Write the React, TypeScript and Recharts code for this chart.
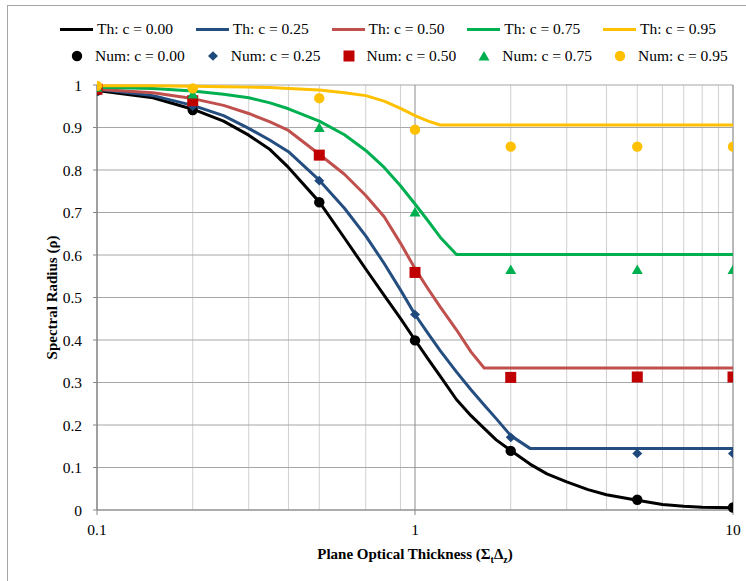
import React from 'react';
import { ComposedChart, Line, Scatter, XAxis, YAxis, CartesianGrid } from 'recharts';

const cLabels = ['0.00', '0.25', '0.50', '0.75', '0.95'];
const lineColors = ['#000000', '#254E80', '#C0504D', '#00B050', '#FFC000'];
const markerColors = ['#000000', '#1F497D', '#C00000', '#00B050', '#FFC000'];
const markerShapes = ['circle', 'diamond', 'square', 'triangle', 'circle'];

const xTicks = [0.1, 1, 10];
const xMinorTicks = [0.2, 0.3, 0.4, 0.5, 0.6, 0.7, 0.8, 0.9, 2, 3, 4, 5, 6, 7, 8, 9];
const yTicks = [0, 0.1, 0.2, 0.3, 0.4, 0.5, 0.6, 0.7, 0.8, 0.9, 1];

const thX = [0.1, 0.15, 0.2, 0.25, 0.3, 0.35, 0.4, 0.5, 0.6, 0.7, 0.8, 0.9, 1, 1.1, 1.2, 1.35, 1.5, 1.65, 1.8, 2, 2.3, 2.6, 3, 3.5, 4, 5, 6, 7, 8, 10];
const thY0 = [0.987, 0.97, 0.943, 0.915, 0.882, 0.848, 0.806, 0.725, 0.64, 0.567, 0.505, 0.451, 0.4, 0.355, 0.315, 0.26, 0.222, 0.192, 0.165, 0.14, 0.108, 0.085, 0.066, 0.048, 0.036, 0.023, 0.013, 0.009, 0.0065, 0.005];
const thY25 = [0.99, 0.975, 0.952, 0.928, 0.898, 0.87, 0.843, 0.776, 0.71, 0.645, 0.58, 0.518, 0.46, 0.415, 0.375, 0.325, 0.283, 0.247, 0.215, 0.175, 0.145, 0.145, 0.145, 0.145, 0.145, 0.145, 0.145, 0.145, 0.145, 0.145];
const thY50 = [0.99, 0.982, 0.968, 0.952, 0.933, 0.913, 0.893, 0.837, 0.79, 0.74, 0.69, 0.628, 0.568, 0.52, 0.478, 0.424, 0.372, 0.334, 0.334, 0.334, 0.334, 0.334, 0.334, 0.334, 0.334, 0.334, 0.334, 0.334, 0.334, 0.334];
const thY75 = [0.995, 0.992, 0.986, 0.978, 0.97, 0.958, 0.944, 0.915, 0.883, 0.846, 0.806, 0.763, 0.72, 0.68, 0.642, 0.601, 0.601, 0.601, 0.601, 0.601, 0.601, 0.601, 0.601, 0.601, 0.601, 0.601, 0.601, 0.601, 0.601, 0.601];
const thY95 = [0.998, 0.998, 0.997, 0.996, 0.995, 0.994, 0.992, 0.988, 0.982, 0.975, 0.962, 0.945, 0.928, 0.915, 0.906, 0.906, 0.906, 0.906, 0.906, 0.906, 0.906, 0.906, 0.906, 0.906, 0.906, 0.906, 0.906, 0.906, 0.906, 0.906];

const numX = [0.1, 0.2, 0.5, 1, 2, 5, 10];
const numY0 = [0.987, 0.941, 0.724, 0.399, 0.139, 0.024, 0.006];
const numY25 = [0.99, 0.95, 0.775, 0.46, 0.171, 0.133, 0.133];
const numY50 = [0.99, 0.963, 0.835, 0.559, 0.312, 0.313, 0.313];
const numY75 = [0.995, 0.979, 0.9, 0.701, 0.566, 0.566, 0.566];
const numY95 = [0.998, 0.992, 0.969, 0.895, 0.855, 0.855, 0.855];

const thSeries = [thY0, thY25, thY50, thY75, thY95];
const numSeries = [numY0, numY25, numY50, numY75, numY95];

const W = 746;
const H = 581;
const FONT = '"Liberation Serif", "Times New Roman", serif';

function Marker({ shape, cx, cy, color }: { shape: string; cx: number; cy: number; color: string }) {
  if (shape === 'circle') return <circle cx={cx} cy={cy} r={5.2} fill={color} />;
  if (shape === 'diamond')
    return <polygon points={`${cx},${cy - 4.8} ${cx + 5},${cy} ${cx},${cy + 4.8} ${cx - 5},${cy}`} fill={color} />;
  if (shape === 'square') return <rect x={cx - 5.5} y={cy - 5.5} width={11} height={11} fill={color} />;
  return <polygon points={`${cx},${cy - 5} ${cx + 5.5},${cy + 4.5} ${cx - 5.5},${cy + 4.5}`} fill={color} />;
}

const renderXTitle = (props: any) => {
  const vb = props.viewBox || {};
  return (
    <text x={vb.x + vb.width / 2} y={vb.y + 49} textAnchor="middle" fontWeight="bold" fontSize={15} fontFamily={FONT} fill="#000">
      Plane Optical Thickness (Σ<tspan dy={4} fontSize={10}>t</tspan>
      <tspan dy={-4}>Δ</tspan>
      <tspan dy={4} fontSize={10}>z</tspan>
      <tspan dy={-4}>)</tspan>
    </text>
  );
};

const renderYTitle = (props: any) => {
  const vb = props.viewBox || {};
  const cx = vb.x + 15;
  const cy = vb.y + vb.height / 2;
  return (
    <text x={cx} y={cy} dy="0.33em" transform={`rotate(-90 ${cx} ${cy})`} textAnchor="middle" fontWeight="bold" fontSize={15} fontFamily={FONT} fill="#000">
      Spectral Radius (ρ)
    </text>
  );
};

function LegendBlock() {
  return (
    <div style={{ position: 'absolute', left: 60, top: 20, fontSize: 15.5, lineHeight: '18px', color: '#000', fontFamily: FONT, whiteSpace: 'nowrap' }}>
      <div style={{ display: 'flex', height: 18 }}>
        {cLabels.map((c, i) => (
          <div key={c} style={{ width: 135.75, display: 'flex', alignItems: 'center' }}>
            <div style={{ width: 33, height: 3, background: lineColors[i], marginRight: 4 }} />
            <span>Th: c = {c}</span>
          </div>
        ))}
      </div>
      <div style={{ display: 'flex', height: 18, marginTop: 9 }}>
        {cLabels.map((c, i) => (
          <div key={c} style={{ width: 135.75, display: 'flex', alignItems: 'center' }}>
            <svg width={35} height={18} style={{ display: 'block' }}>
              <Marker shape={markerShapes[i]} cx={17} cy={9} color={markerColors[i]} />
            </svg>
            <span>Num: c = {c}</span>
          </div>
        ))}
      </div>
    </div>
  );
}

export default function App() {
  const tickStyle = { fill: '#000', fontSize: 15.5, fontFamily: FONT };
  return (
    <div style={{ position: 'absolute', left: 0, top: 0, width: W, height: H, overflow: 'hidden', background: '#fff' }}>
      <div style={{ position: 'absolute', left: 7, top: 5, width: W, height: H, border: '1px solid #A6A6A6' }} />
      <div style={{ position: 'absolute', left: 0, top: 0 }}>
        <ComposedChart width={W} height={H} margin={{ top: 85, right: 13, bottom: 31, left: 37 }}>
          <XAxis
            xAxisId="minor"
            dataKey="x"
            type="number"
            scale="log"
            domain={[0.1, 10]}
            ticks={xMinorTicks}
            allowDataOverflow
            hide
          />
          <CartesianGrid xAxisId="minor" horizontal={false} stroke="#D0D0D0" strokeWidth={1} />
          <CartesianGrid vertical={false} stroke="#A6A6A6" strokeWidth={1} />
          <CartesianGrid horizontal={false} stroke="#8C8C8C" strokeWidth={1} />
          <XAxis
            dataKey="x"
            type="number"
            scale="log"
            domain={[0.1, 10]}
            ticks={xTicks}
            allowDataOverflow
            height={40}
            tick={tickStyle}
            tickSize={5}
            tickMargin={9}
            stroke="#868686"
            tickFormatter={(v: number) => String(v)}
            label={{ content: renderXTitle }}
          />
          <YAxis
            dataKey="y"
            type="number"
            domain={[0, 1]}
            ticks={yTicks}
            width={60}
            tick={tickStyle}
            tickSize={4}
            tickMargin={11}
            stroke="#868686"
            tickFormatter={(v: number) => String(Number(v.toFixed(1)))}
            label={{ content: renderYTitle }}
          />
          {thSeries.map((ys, i) => (
            <Line
              key={`th${i}`}
              data={thX.map((x, j) => ({ x, y: ys[j] }))}
              dataKey="y"
              type="linear"
              stroke={lineColors[i]}
              strokeWidth={3}
              strokeLinejoin="round"
              dot={false}
              activeDot={false}
              isAnimationActive={false}
            />
          ))}
          {numSeries.map((ys, i) => (
            <Scatter
              key={`num${i}`}
              data={numX.map((x, j) => ({ x, y: ys[j] }))}
              dataKey="y"
              isAnimationActive={false}
              shape={(p: any) => <Marker shape={markerShapes[i]} cx={p.cx} cy={p.cy} color={markerColors[i]} />}
            />
          ))}
        </ComposedChart>
      </div>
      <LegendBlock />
    </div>
  );
}
